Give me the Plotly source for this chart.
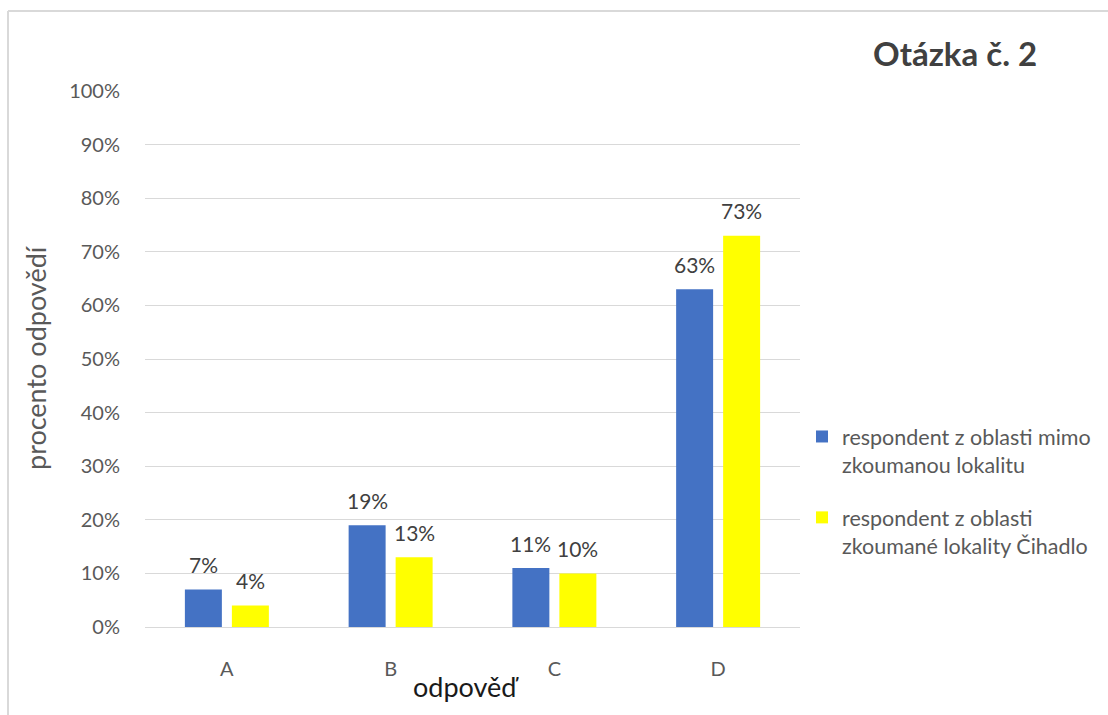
import plotly.graph_objects as go

# Survey question 2: share of answers per option, two respondent groups
categories = ["A", "B", "C", "D"]
series_names = [
    "respondent z oblasti mimo<br>zkoumanou lokalitu",
    "respondent z oblasti<br>zkoumané lokality Čihadlo",
]
values_outside = [7, 19, 11, 63]
values_cihadlo = [4, 13, 10, 73]
y_ticks = [0, 10, 20, 30, 40, 50, 60, 70, 80, 90, 100]
y_tick_labels = [f"{t}%" for t in y_ticks]

colors = ["#4472C4", "#FFFF00"]
series_values = [values_outside, values_cihadlo]

W, H = 1108, 715
ML, MR, MT, MB = 145, 308, 91, 88
plot_w = W - ML - MR
plot_h = H - MT - MB


def px_x(p):
    return (p - ML) / plot_w


def px_y(p):
    return (H - MB - p) / plot_h


fig = go.Figure()
for i, (name, vals, col) in enumerate(zip(series_names, series_values, colors)):
    fig.add_trace(go.Bar(
        x=categories, y=vals, name=name, legendgroup=f"g{i}",
        marker=dict(color=col, line=dict(width=0)),
        hoverinfo="skip",
    ))

# Data labels above each bar, shifted sideways to its slot in the group
BAR_SHIFT = 23.5
annotations = []
for i, vals in enumerate(series_values):
    shift = -BAR_SHIFT if i == 0 else BAR_SHIFT
    for c, v in zip(categories, vals):
        annotations.append(dict(
            x=c, y=v, xref="x", yref="y", text=f"{v}%",
            showarrow=False, xshift=shift, yshift=25,
            yanchor="middle", xanchor="center",
            font=dict(family="Lato", size=21, color="#404040"),
        ))

annotations.append(dict(
    x=px_x(35), y=px_y(358), xref="paper", yref="paper",
    text="procento odpovědí", textangle=-90, showarrow=False,
    xanchor="center", yanchor="middle",
    font=dict(family="Lato", size=27, color="#595959"),
))
annotations.append(dict(
    x=px_x(466), y=px_y(686), xref="paper", yref="paper",
    text="odpověď", showarrow=False,
    xanchor="center", yanchor="middle",
    font=dict(family="Lato", size=27, color="#1a1a1a"),
))
annotations.append(dict(
    x=px_x(955), y=px_y(53), xref="paper", yref="paper",
    text="<b>Otázka č. 2</b>", showarrow=False,
    xanchor="center", yanchor="middle",
    font=dict(family="Lato", size=33, color="#404040"),
))

# Chart frame: top and left edges
shapes = [
    dict(type="line", xref="paper", yref="paper",
         x0=px_x(8), x1=px_x(W + 20), y0=px_y(11), y1=px_y(11),
         line=dict(color="#D9D9D9", width=2)),
    dict(type="line", xref="paper", yref="paper",
         x0=px_x(8), x1=px_x(8), y0=px_y(11), y1=px_y(H + 20),
         line=dict(color="#D9D9D9", width=2)),
]

fig.update_layout(
    width=W, height=H,
    margin=dict(l=ML, r=MR, t=MT, b=MB, pad=0),
    paper_bgcolor="white", plot_bgcolor="white",
    barmode="group", bargap=0.426, bargroupgap=0.213,
    font=dict(family="Lato", color="#595959"),
    showlegend=True,
    legend=dict(
        x=px_x(802), y=px_y(416), xanchor="left", yanchor="top",
        font=dict(family="Lato", size=21.5, color="#595959"),
        valign="top", traceorder="grouped", tracegroupgap=22,
        itemwidth=30, bgcolor="rgba(0,0,0,0)",
    ),
    annotations=annotations,
    shapes=shapes,
)
fig.update_xaxes(
    showgrid=False, showline=False, zeroline=False,
    ticks="", ticklabelstandoff=28,
    tickfont=dict(family="Lato", size=20, color="#595959"),
)
fig.update_yaxes(
    range=[0, 100], tickvals=y_ticks, ticktext=y_tick_labels,
    showgrid=True, gridcolor="#D9D9D9", gridwidth=1,
    zeroline=True, zerolinecolor="#D9D9D9", zerolinewidth=1,
    showline=False, ticks="", ticklabelstandoff=24,
    tickfont=dict(family="Lato", size=20, color="#595959"),
)

fig.write_html("out.html")
